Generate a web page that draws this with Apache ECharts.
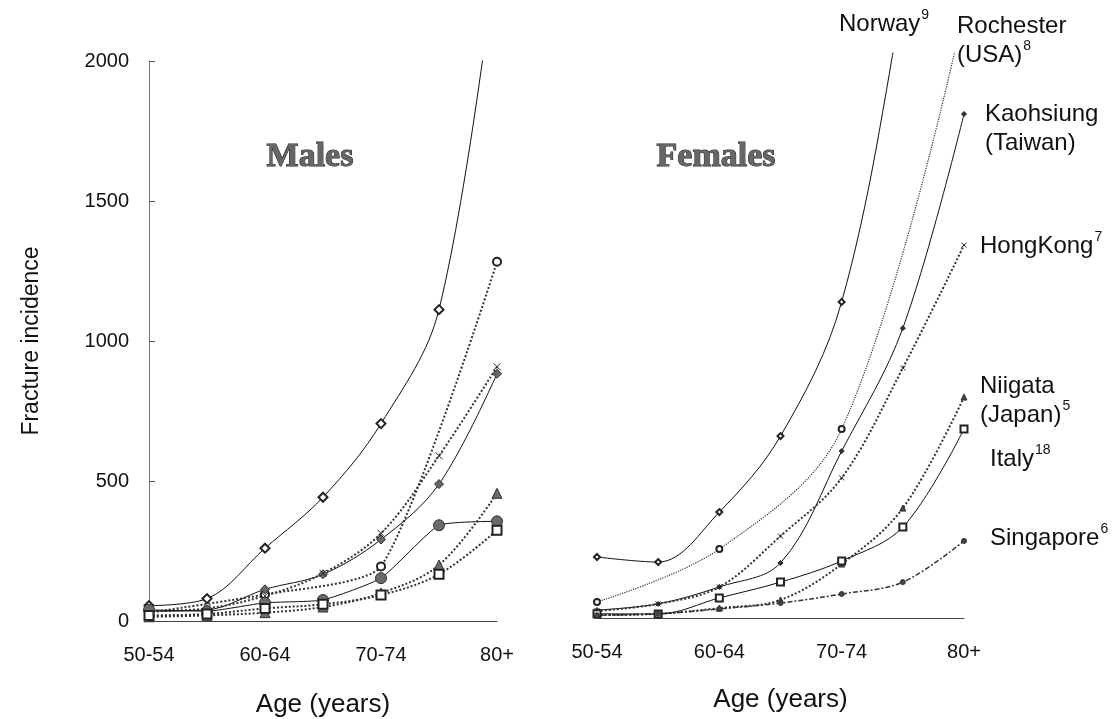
<!DOCTYPE html>
<html>
<head>
<meta charset="utf-8">
<script src="https://cdn.jsdelivr.net/npm/echarts@6/dist/echarts.min.js"></script>
<style>
html,body{margin:0;padding:0;background:#fff;}
#c{width:1113px;height:719px;}
</style>
</head>
<body>
<div id="c"></div>
<script>
const ageGroups = ['50-54','55-59','60-64','65-69','70-74','75-79','80+'];
const yTicks = [0, 500, 1000, 1500, 2000];

// Males
const norwayM    = [55, 80, 260, 442, 705, 1112, 2400];
const rochesterM = [30, null, 95, null, 195, null, 1283];
const kaohsiungM = [35, 40, 113, 167, 291, 489, 883];
const hongkongM  = [35, 45, 90, 170, 313, 590, 908];
const singaporeM = [40, 35, 65, 75, 153, 342, 356];
const niigataM   = [15, 20, 30, 50, 100, 200, 456];
const italyM     = [20, 25, 45, 60, 93, 167, 324];

// Females
const norwayF    = [216, 198, 375, 644, 1119, 2200, 3500];
const rochesterF = [57, null, 244, null, 669, null, 2150];
const kaohsiungF = [28, 50, 110, 195, 591, 1026, 1784];
const hongkongF  = [25, 50, 110, 290, 496, 885, 1320];
const niigataF   = [10, 15, 35, 64, 191, 389, 782];
const italyF     = [15, 14, 71, 127, 202, 322, 669];
const singaporeF = [10, 15, 32, 53, 85, 127, 273];

const SANS = 'Liberation Sans, Arial, sans-serif';
const xPath = 'path://M0,0L10,10M10,0L0,10';

function ser(idx, data, opt) {
  const solid = opt.solid;
  return {
    type: 'line', xAxisIndex: idx, yAxisIndex: idx, data: data,
    connectNulls: true, smooth: opt.smooth == null ? 0.35 : opt.smooth,
    symbol: opt.symbol, symbolSize: opt.size,
    showAllSymbol: true,
    lineStyle: {
      color: solid ? '#111' : '#333',
      width: solid ? 1 : (opt.w || 2),
      type: solid ? 'solid' : (opt.dash || 'dotted')
    },
    itemStyle: {
      color: opt.fill || '#222',
      borderColor: opt.border || '#222',
      borderWidth: opt.bw == null ? 1 : opt.bw
    },
    emphasis: {disabled: true},
    z: opt.z || 2
  };
}

const series = [
  // males
  ser(0, norwayM,    {solid: true, symbol: 'emptyDiamond', size: 9}),
  ser(0, rochesterM, {symbol: 'emptyCircle', size: 8, smooth: 0.2}),
  ser(0, kaohsiungM, {solid: true, symbol: 'diamond', size: 9, fill: '#666', border: '#333'}),
  ser(0, hongkongM,  {symbol: xPath, size: 7, fill: 'none', border: '#222'}),
  ser(0, singaporeM, {solid: true, symbol: 'circle', size: 11, fill: '#6a6a6a', border: '#333', smooth: 0.15}),
  ser(0, niigataM,   {symbol: 'triangle', size: 10, fill: '#6a6a6a', border: '#333'}),
  ser(0, italyM,     {symbol: 'emptyRect', size: 9}),
  // females
  ser(1, norwayF,    {solid: true, symbol: 'emptyDiamond', size: 6}),
  ser(1, rochesterF, {symbol: 'emptyCircle', size: 6, w: 1.2}),
  ser(1, kaohsiungF, {solid: true, symbol: 'diamond', size: 5, fill: '#333'}),
  ser(1, hongkongF,  {symbol: xPath, size: 5, fill: 'none', border: '#222'}),
  ser(1, niigataF,   {symbol: 'triangle', size: 6, fill: '#444', border: '#333'}),
  ser(1, italyF,     {solid: true, symbol: 'emptyRect', size: 7}),
  ser(1, singaporeF, {symbol: 'circle', size: 5, fill: '#444', border: '#333', dash: [2, 2, 5, 2], w: 1.5})
];

function lbl(x, y, main, sup) {
  return {
    type: 'text', x: x, y: y,
    style: {
      text: sup ? '{a|' + main + '}{s|' + sup + '}' : '{a|' + main + '}',
      rich: {
        a: {fontSize: 24, fontFamily: SANS, fill: '#111', lineHeight: 28, verticalAlign: 'bottom'},
        s: {fontSize: 14, fontFamily: SANS, fill: '#111', lineHeight: 28, verticalAlign: 'top', padding: [0, 0, 10, 1]}
      },
      align: 'left', verticalAlign: 'middle'
    }
  };
}

const titleStyle = (t) => ({
  text: t, fontSize: 34, fontWeight: 'bold', fontFamily: 'Liberation Serif, Times New Roman, serif',
  fill: '#666', stroke: '#222', lineWidth: 1, align: 'center', verticalAlign: 'middle'
});

const option = {
  backgroundColor: '#fff',
  animation: false,
  grid: [
    {left: 149, top: 61, width: 348, height: 560, containLabel: false, outerBoundsMode: 'none'},
    {left: 597, top: 53, width: 367, height: 565, containLabel: false, outerBoundsMode: 'none'}
  ],
  xAxis: [0, 1].map(i => ({
    type: 'category', gridIndex: i, data: ageGroups, boundaryGap: false,
    axisLine: {lineStyle: {color: '#444', width: 1}},
    axisTick: {show: false},
    axisLabel: {interval: 1, fontSize: 20, fontFamily: SANS, color: '#111', margin: 24},
    name: 'Age (years)', nameLocation: 'middle', nameGap: i === 0 ? 71 : 69,
    nameTextStyle: {fontSize: 26, fontFamily: SANS, color: '#111'},
    splitLine: {show: false}
  })),
  yAxis: [
    {
      type: 'value', gridIndex: 0, min: yTicks[0], max: yTicks[yTicks.length - 1], interval: 500,
      axisLine: {show: true, lineStyle: {color: '#777', width: 1}},
      axisTick: {show: true, inside: true, length: 6, lineStyle: {color: '#555'}},
      axisLabel: {fontSize: 20, fontFamily: SANS, color: '#111', margin: 20, formatter: v => String(v)},
      splitLine: {show: false},
      name: 'Fracture incidence', nameLocation: 'middle', nameRotate: 90, nameGap: 106,
      nameTextStyle: {fontSize: 23, fontFamily: SANS, color: '#111'}
    },
    {
      type: 'value', gridIndex: 1, min: 0, max: 2000, interval: 500, show: false,
      splitLine: {show: false}
    }
  ],
  series: series,
  graphic: [
    {type: 'text', x: 310, y: 157, style: titleStyle('Males')},
    {type: 'text', x: 716, y: 157, style: titleStyle('Females')},
    lbl(839, 22, 'Norway', '9'),
    lbl(957, 24, 'Rochester'),
    lbl(957, 53, '(USA)', '8'),
    lbl(985, 112, 'Kaohsiung'),
    lbl(985, 141, '(Taiwan)'),
    lbl(980, 244, 'HongKong', '7'),
    lbl(980, 384, 'Niigata'),
    lbl(980, 413, '(Japan)', '5'),
    lbl(990, 457, 'Italy', '18'),
    lbl(990, 536, 'Singapore', '6')
  ]
};

const chart = echarts.init(document.getElementById('c'), null, {renderer: 'canvas'});
chart.setOption(option);
</script>
</body>
</html>
